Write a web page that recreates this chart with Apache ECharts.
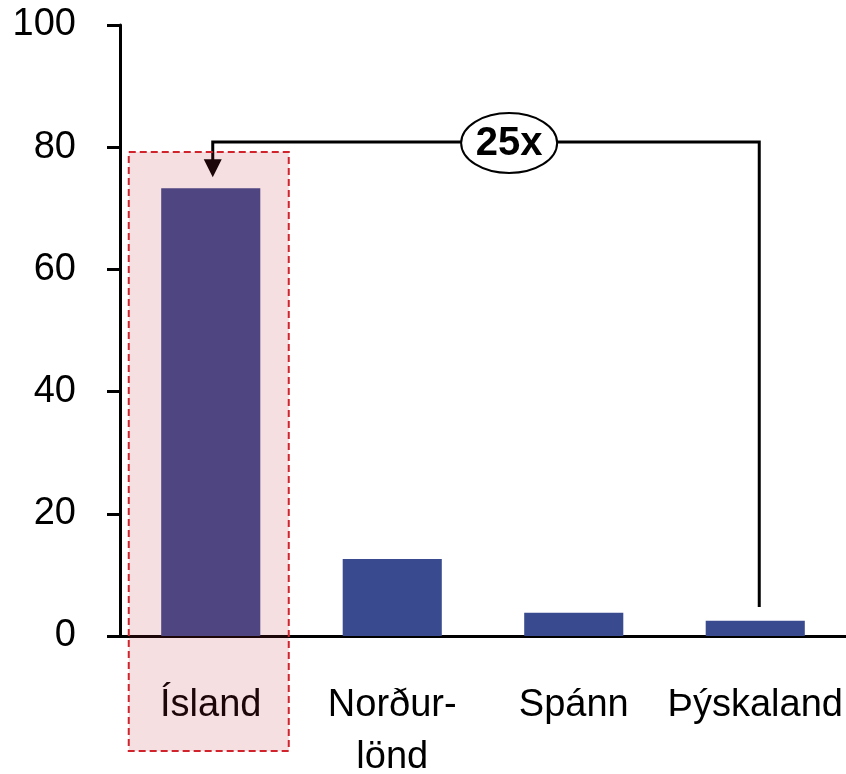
<!DOCTYPE html>
<html>
<head>
<meta charset="utf-8">
<script src="https://cdn.jsdelivr.net/npm/echarts@6/dist/echarts.min.js"></script>
<style>
html,body{margin:0;padding:0;background:#fff;}
#main{width:846px;height:774px;}
</style>
</head>
<body>
<div id="main"></div>
<script>
// Data
var categories = ['Ísland', 'Norður-\nlönd', 'Spánn', 'Þýskaland'];
var values = [73.3, 12.6, 3.8, 2.5];
var yTicks = [0, 20, 40, 60, 80, 100];
var ratioLabel = '25x';
var highlightIndex = 0;
var compareIndex = 3;

var FONT = '"Liberation Sans", Arial, sans-serif';
var chart = echarts.init(document.getElementById('main'), null, {renderer: 'canvas'});

chart.setOption({
  animation: false,
  backgroundColor: '#ffffff',
  grid: {left: 120, right: 0, top: 25, bottom: 138, containLabel: false, outerBoundsMode: 'none'},
  xAxis: {
    type: 'category',
    data: categories,
    axisLine: {lineStyle: {color: '#000', width: 3}},
    axisTick: {show: false},
    axisLabel: {color: '#000', fontSize: 38, fontFamily: FONT, lineHeight: 52, margin: 44, interval: 0}
  },
  yAxis: {
    type: 'value',
    min: yTicks[0],
    max: yTicks[yTicks.length - 1],
    interval: yTicks[1] - yTicks[0],
    axisLine: {show: true, lineStyle: {color: '#000', width: 3}},
    axisTick: {show: true, length: 13, lineStyle: {color: '#000', width: 3}},
    splitLine: {show: false},
    axisLabel: {color: '#000', fontSize: 38, fontFamily: FONT, margin: 44}
  },
  series: [{
    type: 'bar',
    data: values,
    barWidth: '54.6%',
    itemStyle: {color: '#3a4a8f'}
  }]
});

function px(cat, val) { return chart.convertToPixel({gridIndex: 0}, [cat, val]); }

var pA = px(highlightIndex, values[highlightIndex]);
var pB = px(compareIndex, values[compareIndex]);
var zero = px(highlightIndex, 0);
var lineY = px(0, 80.85)[1];
var tipY = px(0, 75.1)[1];
var endY = px(0, 4.75)[1];
var boxTop = px(0, 79.2)[1];
var boxBottom = zero[1] + 115;
var boxL = pA[0] - 82;
var boxR = pA[0] + 78;
var xA = pA[0] + 2;
var xB = pB[0] + 4;
var ellX = pA[0] + (pB[0] - pA[0]) * 0.548;

chart.setOption({
  graphic: [
    {type: 'polyline', z: 50, shape: {points: [[xA, tipY - 16], [xA, lineY], [xB, lineY], [xB, endY]]},
     style: {stroke: '#000', lineWidth: 3, fill: null}},
    {type: 'polygon', z: 50, shape: {points: [[xA - 9, tipY - 18], [xA + 9, tipY - 18], [xA, tipY]]},
     style: {fill: '#000'}},
    {type: 'ellipse', z: 60, shape: {cx: ellX, cy: lineY + 1, rx: 48, ry: 30},
     style: {fill: '#fff', stroke: '#000', lineWidth: 2}},
    {type: 'text', z: 61, x: ellX, y: lineY + 2,
     style: {text: ratioLabel, fontSize: 40, fontWeight: 'bold', fontFamily: FONT, fill: '#000', align: 'center', verticalAlign: 'middle'}},
    {type: 'rect', z: 100, shape: {x: boxL, y: boxTop, width: boxR - boxL, height: boxBottom - boxTop},
     style: {fill: 'rgba(194,38,52,0.148)', stroke: null}},
    {type: 'rect', z: 101, shape: {x: boxL, y: boxTop, width: boxR - boxL, height: boxBottom - boxTop},
     style: {fill: null, stroke: '#d0232c', lineWidth: 2, lineDash: [7, 4]}}
  ]
});
</script>
</body>
</html>
